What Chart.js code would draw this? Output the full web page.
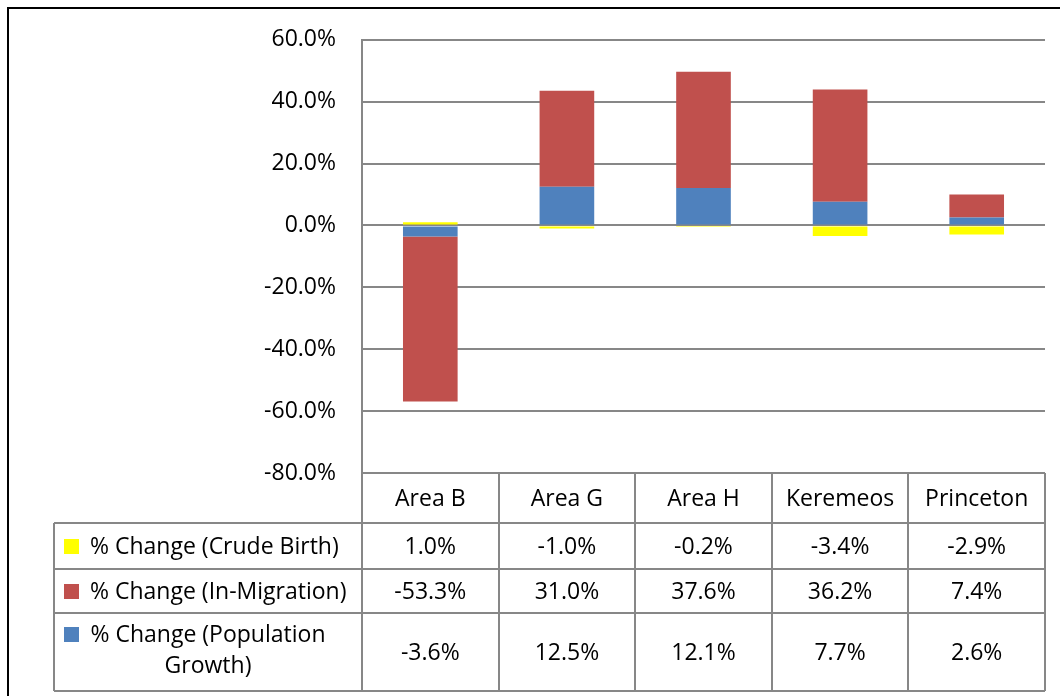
<!DOCTYPE html>
<html>
<head>
<meta charset="utf-8">
<script src="https://cdn.jsdelivr.net/npm/chart.js@4"></script>
<style>
  html, body { margin: 0; padding: 0; background: #fff; }
  #wrap { position: relative; width: 1060px; height: 696px; overflow: hidden; }
  #frame { position: absolute; left: 7px; top: 7px; width: 1100px; height: 750px;
           border-top: 2px solid #000; border-left: 2px solid #000; }
  canvas { position: absolute; left: 0; top: 0; }
</style>
</head>
<body>
<div id="wrap">
  <div id="frame"></div>
  <canvas id="chart" width="1060" height="696"></canvas>
</div>
<script>
const categories = ['Area B', 'Area G', 'Area H', 'Keremeos', 'Princeton'];
const crudeBirth = [1.0, -1.0, -0.2, -3.4, -2.9];
const inMigration = [-53.3, 31.0, 37.6, 36.2, 7.4];
const popGrowth = [-3.6, 12.5, 12.1, 7.7, 2.6];
const yTicks = [-80, -60, -40, -20, 0, 20, 40, 60];

const FONT = '"Open Sans", "Noto Sans", sans-serif';
const GRID = '#878787';

function pct(v) {
  return v.toFixed(1) + '%';
}

// rows of the data table, top to bottom (legend order)
const tableRows = [
  { label: ['% Change (Crude Birth)'], color: '#FFFF00', values: crudeBirth, height: 46 },
  { label: ['% Change (In-Migration)'], color: '#C0504D', values: inMigration, height: 44 },
  { label: ['% Change (Population', 'Growth)'], color: '#4F81BD', values: popGrowth, height: 78 }
];

const dataTablePlugin = {
  id: 'dataTable',
  afterDraw(chart) {
    const ctx = chart.ctx;
    const area = chart.chartArea;
    const xScale = chart.scales.x;
    const colW = (area.right - area.left) / categories.length;
    const tableLeft = 54;
    const headTop = area.bottom;
    const headBottom = headTop + 50;

    ctx.save();
    ctx.strokeStyle = GRID;
    ctx.lineWidth = 2;

    // horizontal lines
    let y = headBottom;
    const rowTops = [];
    ctx.beginPath();
    ctx.moveTo(tableLeft, y);
    ctx.lineTo(area.right, y);
    tableRows.forEach(row => {
      rowTops.push(y);
      y += row.height;
      ctx.moveTo(tableLeft, y);
      ctx.lineTo(area.right, y);
    });
    const tableBottom = y;

    // vertical lines
    ctx.moveTo(tableLeft, headBottom);
    ctx.lineTo(tableLeft, tableBottom);
    for (let i = 0; i <= categories.length; i++) {
      const x = Math.round(area.left + i * colW);
      ctx.moveTo(x, headTop);
      ctx.lineTo(x, tableBottom);
    }
    ctx.stroke();

    ctx.fillStyle = '#000';
    ctx.font = '23px ' + FONT;
    ctx.textBaseline = 'middle';
    ctx.textAlign = 'center';

    // category header
    categories.forEach((c, i) => {
      ctx.fillText(c, xScale.getPixelForValue(i), (headTop + headBottom) / 2 + 1);
    });

    // rows
    tableRows.forEach((row, r) => {
      const top = rowTops[r];
      const mid = top + row.height / 2;
      row.values.forEach((v, i) => {
        ctx.textAlign = 'center';
        ctx.fillText(pct(v), xScale.getPixelForValue(i), mid + 1);
      });

      const keyY = row.label.length > 1 ? top + 21 : mid;
      ctx.fillStyle = row.color;
      ctx.fillRect(64, keyY - 7, 15, 15);
      ctx.fillStyle = '#000';
      if (row.label.length > 1) {
        ctx.textAlign = 'center';
        ctx.fillText(row.label[0], 208, top + 22);
        ctx.fillText(row.label[1], 208, top + 53);
      } else {
        ctx.textAlign = 'left';
        ctx.fillText(row.label[0], 90, mid + 1);
      }
    });
    ctx.restore();
  }
};

const ctx = document.getElementById('chart').getContext('2d');
new Chart(ctx, {
  type: 'bar',
  data: {
    labels: categories,
    datasets: [
      { label: '% Change (Population Growth)', data: popGrowth, backgroundColor: '#4F81BD' },
      { label: '% Change (In-Migration)', data: inMigration, backgroundColor: '#C0504D' },
      { label: '% Change (Crude Birth)', data: crudeBirth, backgroundColor: '#FFFF00' }
    ]
  },
  options: {
    responsive: false,
    animation: false,
    layout: {
      padding: { left: 0, top: 38, right: 15, bottom: 223 }
    },
    datasets: {
      bar: { barPercentage: 0.4, categoryPercentage: 1.0 }
    },
    scales: {
      x: {
        stacked: true,
        display: false
      },
      y: {
        stacked: true,
        min: -80,
        max: 60,
        afterBuildTicks: scale => {
          scale.ticks = yTicks.map(v => ({ value: v }));
        },
        afterFit: scale => {
          scale.width = 362;
        },
        grid: {
          color: GRID,
          lineWidth: 2,
          drawTicks: false
        },
        border: {
          color: GRID,
          width: 2
        },
        ticks: {
          padding: 26,
          color: '#000',
          font: { family: FONT, size: 23 },
          callback: v => pct(v)
        }
      }
    },
    plugins: {
      legend: { display: false },
      tooltip: { enabled: false }
    }
  },
  plugins: [dataTablePlugin]
});
</script>
</body>
</html>
